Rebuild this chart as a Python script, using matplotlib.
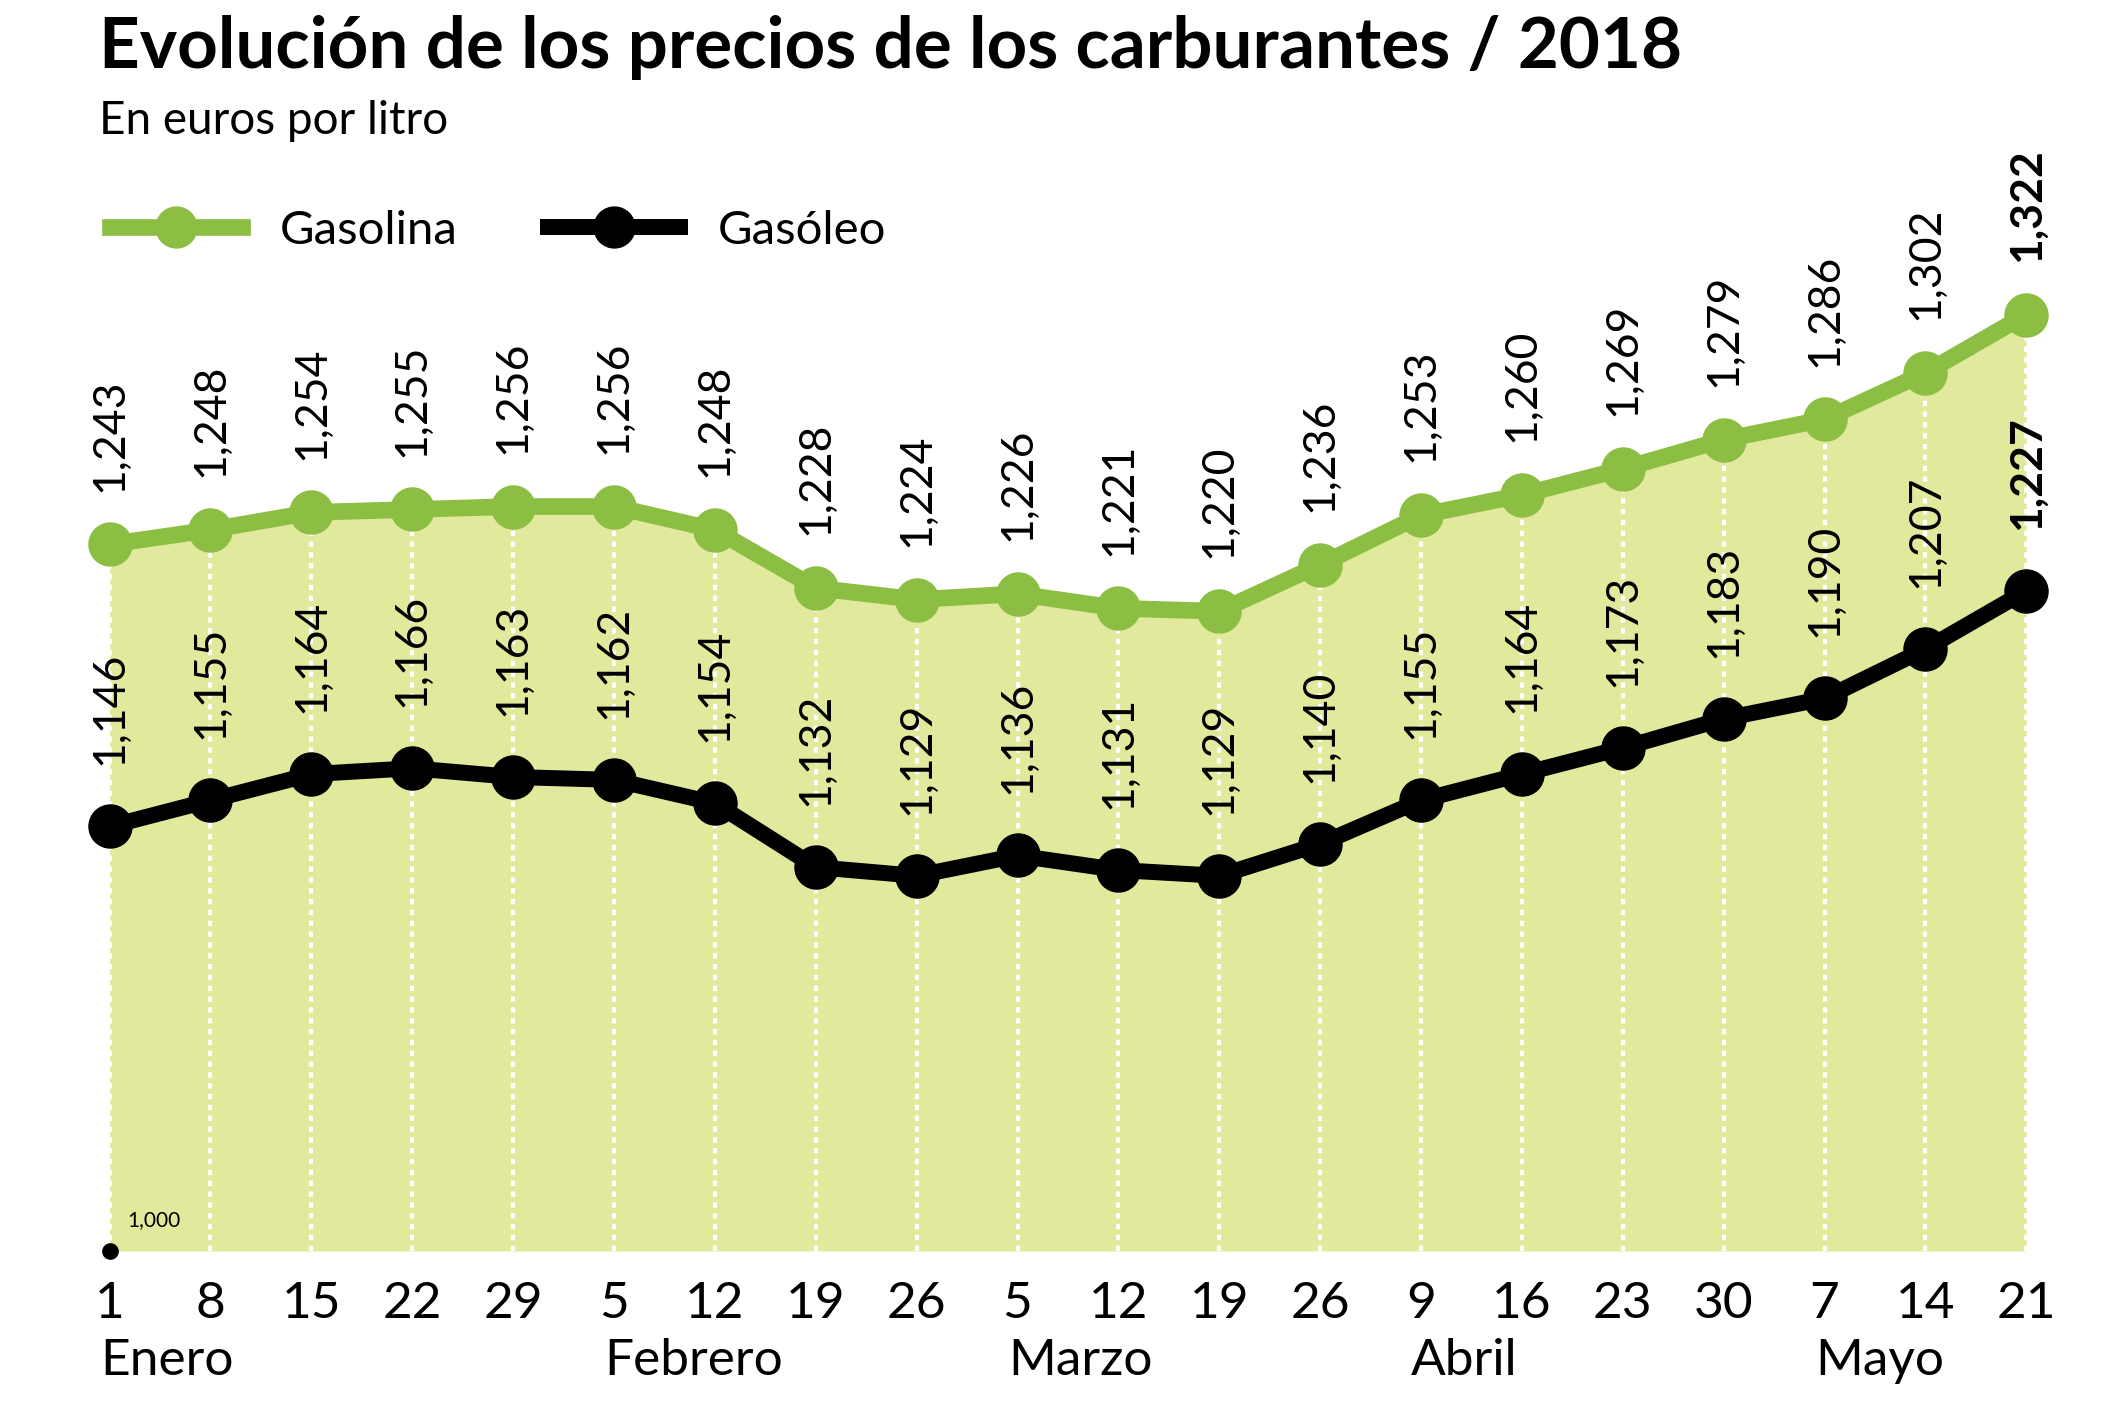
import matplotlib
matplotlib.use('Agg')
import matplotlib.pyplot as plt
import numpy as np

# datos (euros por litro, semanas de 2018)
dias = ['1', '8', '15', '22', '29', '5', '12', '19', '26', '5', '12', '19', '26',
        '9', '16', '23', '30', '7', '14', '21']
gasolina = [1.243, 1.248, 1.254, 1.255, 1.256, 1.256, 1.248, 1.228, 1.224, 1.226,
            1.221, 1.220, 1.236, 1.253, 1.260, 1.269, 1.279, 1.286, 1.302, 1.322]
gasoleo = [1.146, 1.155, 1.164, 1.166, 1.163, 1.162, 1.154, 1.132, 1.129, 1.136,
           1.131, 1.129, 1.140, 1.155, 1.164, 1.173, 1.183, 1.190, 1.207, 1.227]
meses = ['Enero', 'Febrero', 'Marzo', 'Abril', 'Mayo']
inicio_mes = [0, 5, 9, 13, 17]
base = 1.0

verde = '#8cbe43'
relleno = '#e1e99c'

def fmt(v):
    return ('%.3f' % v).replace('.', ',')

plt.rcParams['font.family'] = ['Lato', 'DejaVu Sans']

fig = plt.figure(figsize=(21.21, 14.17), dpi=100)
ax = fig.add_axes([0, 0, 1, 1])
ax.set_xlim(-1.0865, 19.939)
ax.set_ylim(0.9429, 1.4302)
ax.axis('off')

x = np.arange(len(dias))

ax.fill_between(x, base, gasolina, color=relleno, lw=0, zorder=1)
ax.vlines(x, base, gasolina, colors='white', linestyles=(0, (1.3, 1.3)), lw=3, zorder=2)

ax.plot(x, gasolina, color=verde, lw=12, marker='o', ms=31, label='Gasolina', zorder=4)
ax.plot(x, gasoleo, color='black', lw=11.5, marker='o', ms=31, label='Gasóleo', zorder=4)

# punto de base
ax.plot([0], [base], 'o', color='black', ms=11, zorder=5, clip_on=False)
ax.annotate('1,000', (0, base), xytext=(13, 22), textcoords='offset points',
            ha='left', va='center', fontsize=15)

for i in range(len(x)):
    peso = 'bold' if i == len(x) - 1 else 'normal'
    ax.annotate(fmt(gasolina[i]), (x[i], gasolina[i]), xytext=(0, 38), textcoords='offset points',
                rotation=90, ha='center', va='bottom', fontsize=32, fontweight=peso, zorder=6)
    ax.annotate(fmt(gasoleo[i]), (x[i], gasoleo[i]), xytext=(0, 44), textcoords='offset points',
                rotation=90, ha='center', va='bottom', fontsize=32, fontweight=peso, zorder=6)
    ax.annotate(dias[i], (x[i], base), xytext=(0, -38), textcoords='offset points',
                ha='center', va='center', fontsize=37)

for m, i in zip(meses, inicio_mes):
    ax.annotate(m, (x[i], base), xytext=(-7, -79), textcoords='offset points',
                ha='left', va='center', fontsize=37)

fig.text(99 / 2121, 1 - 68 / 1417, 'Evolución de los precios de los carburantes / 2018',
         fontsize=51, fontweight='bold', va='baseline', ha='left')
fig.text(99 / 2121, 1 - 134 / 1417, 'En euros por litro', fontsize=33, va='baseline', ha='left')

ax.legend(loc='center left', bbox_to_anchor=(110 / 2121, 1 - 231 / 1417),
          bbox_transform=fig.transFigure, ncol=2, frameon=False, fontsize=34,
          handlelength=2.8, handletextpad=0.8, columnspacing=1.9, numpoints=1,
          borderpad=0, borderaxespad=0, markerscale=0.95)

fig.savefig('out.png', dpi=100)
